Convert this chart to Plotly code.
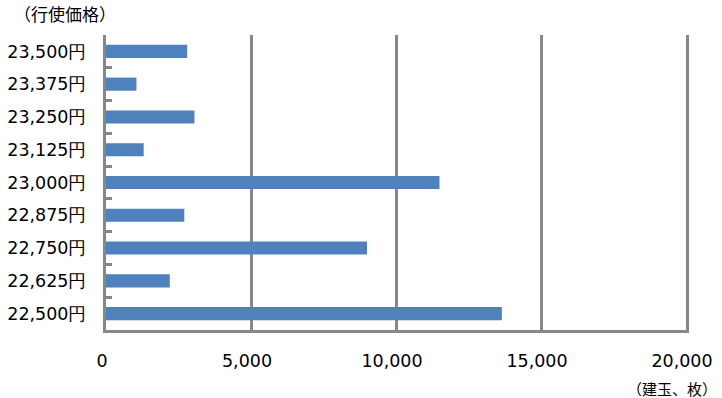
import plotly.graph_objects as go

categories = ["22,500円", "22,625円", "22,750円", "22,875円", "23,000円",
              "23,125円", "23,250円", "23,375円", "23,500円"]
values = [13650, 2200, 9000, 2700, 11500, 1300, 3050, 1050, 2800]
x_ticks = [0, 5000, 10000, 15000, 20000]
y_title = "（行使価格）"
x_title = "（建玉、枚）"

FONT = "DejaVu Sans"
GRAY = "#878787"

fig = go.Figure(go.Bar(
    x=values, y=categories, orientation="h",
    marker=dict(color="#4F81BD", line=dict(width=0)),
    width=0.4,
))

fig.update_layout(
    width=722, height=398,
    margin=dict(l=106, r=36, t=35, b=68),
    paper_bgcolor="white", plot_bgcolor="white",
    showlegend=False,
    font=dict(family=FONT, size=17.5, color="#000000"),
    xaxis=dict(
        range=[0, 20000], tickvals=x_ticks, tickformat=",",
        showgrid=True, gridcolor=GRAY, gridwidth=3,
        showline=True, linecolor=GRAY, linewidth=3,
        zeroline=False, ticks="", ticklabelstandoff=13,
        ticklabelshift=-4, automargin=False,
        tickfont=dict(size=17.5),
    ),
    yaxis=dict(
        type="category", categoryorder="array", categoryarray=categories,
        showgrid=False, zeroline=False, automargin=False,
        showline=True, linecolor=GRAY, linewidth=3, mirror=True,
        ticks="inside", tickson="boundaries", ticklen=6, tickwidth=3,
        tickcolor=GRAY, ticklabelstandoff=13,
        tickfont=dict(size=17.5),
    ),
    annotations=[
        dict(text=y_title, xref="paper", yref="paper",
             x=(12 - 106) / 580, y=1 + (35 - 13) / 295,
             xanchor="left", yanchor="middle", showarrow=False,
             font=dict(size=17, family="Noto Sans CJK JP")),
        dict(text=x_title, xref="paper", yref="paper",
             x=(719 - 106) / 580, y=(330 - 388) / 295,
             xanchor="right", yanchor="middle", showarrow=False,
             font=dict(size=15, family="Noto Sans CJK JP")),
    ],
)

fig.write_html("out.html")
